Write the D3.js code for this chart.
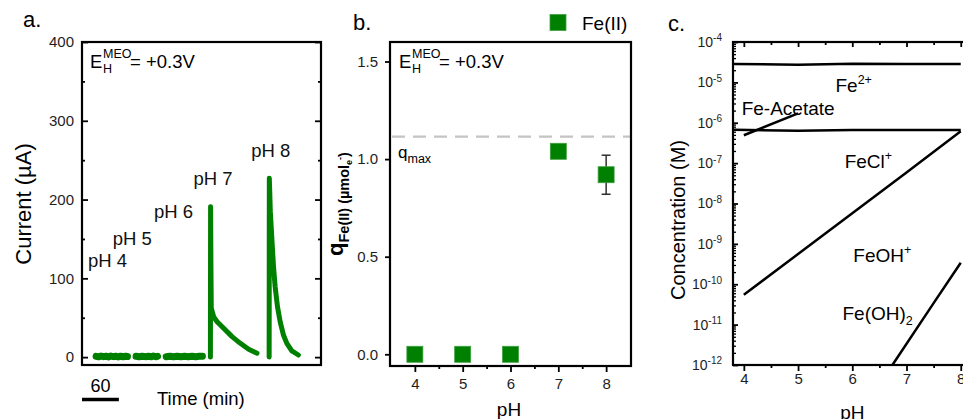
<!DOCTYPE html>
<html><head><meta charset="utf-8">
<script src="https://cdn.jsdelivr.net/npm/d3@7"></script>
<style>
body{margin:0;background:#fff;}
svg{font-family:"Liberation Sans",Arial,Helvetica,sans-serif;}
</style></head><body>
<svg id="fig" width="963" height="419"></svg>
<script>
// ---- Panel a: current transients at each pH step (time in min, current in µA)
const runPH4 = [[23,1],[27,0.4],[31,1.3],[35,0.6],[39,1.1],[43,0.3],[47,1.3],[51,0.6],[55,1.1],[59,0.3],[63,1.2],[67,0.5],[71,1.1],[74,0.8]];
const runPH5 = [[88,1],[93,0.5],[98,1.1],[103,0.6],[108,1],[113,0.4],[116,1.3],[120,0.5],[123,1]];
const runPH6 = [[137,0.6],[143,1.1],[149,0.5],[155,1.1],[161,0.5],[167,1],[173,0.5],[179,1.1],[185,0.5],[191,1],[196,1.2]];
const runPH7 = [[209,0],[209.3,191],[209.8,120],[210.4,62],[214.4,51],[219.9,45],[230.6,36.5],[244.2,26],[257.7,17.5],[271.2,10],[284.8,5]];
const runPH8 = [[304.6,0],[304.9,227],[306.5,185],[309.1,149],[311.7,115],[314.4,89],[318.2,64],[322.5,45],[327.9,28],[333.4,17.5],[341.5,8],[352.2,2.7]];
const runs = [runPH4, runPH5, runPH6, runPH7, runPH8];
const runLabels = ["pH 4","pH 5","pH 6","pH 7","pH 8"];
const runLabelAt = [[9.7,114],[50,142],[117,176.5],[181.5,218.5],[275.5,254]]; // [min, µA]
const currentTicks = [0,100,200,300,400];
const currentMinor = [50,150,250,350];
const scaleBarMin = 60;

// ---- Panel b: Fe(II) charge vs pH
const phB = [4,5,6,7,8];
const qFe = [0,0,0,1.04,0.92];
const qErr = [0,0,0,0,0.10];
const qMax = 1.115;
const qTicks = [0.0,0.5,1.0,1.5];

// ---- Panel c: Fe(II) speciation boundaries vs pH (concentration, M)
const lineFeTop   = [[3.82,2.85e-5],[5,2.75e-5],[6,2.9e-5],[7,2.85e-5],[8,2.85e-5]];
const lineFeCl    = [[3.82,6.7e-7],[5,6.3e-7],[6,6.6e-7],[7,6.6e-7],[8,6.6e-7]];
const lineAcetate = [[4,4.9e-7],[5,1.7e-6]];
const lineFeOH    = [[4,5.5e-11],[5,5.6e-10],[6,5.75e-9],[7,5.9e-8],[8,6.2e-7]];
const lineFeOH2   = [[6.74,1.0e-12],[7.5,3.4e-11],[8,3.4e-10]];
const speciesLines = [lineFeTop, lineFeCl, lineAcetate, lineFeOH, lineFeOH2];
const speciesLabels = [
  {main:"Fe", sup:"2+", at:[5.69,10**-5.24]},
  {main:"Fe-Acetate", at:[3.96,10**-5.81]},
  {main:"FeCl", sup:"+", at:[5.86,10**-7.12]},
  {main:"FeOH", sup:"+", at:[6.02,10**-9.45]},
  {main:"Fe(OH)", sub:"2", at:[5.82,10**-10.88]}
];
const concExponents = [-4,-5,-6,-7,-8,-9,-10,-11,-12];
const phTicks = [4,5,6,7,8];
const phMinor = [4.5,5.5,6.5,7.5];

const GREEN = "#008000";
const INK = "#000";
const TICKTXT = "#1e1e1e";

const svg = d3.select("#fig");

function styleAxis(g, fs){
  g.select(".domain").remove();
  g.selectAll(".tick line").attr("stroke", INK).attr("stroke-width", 1.8);
  g.selectAll(".tick text").attr("fill", TICKTXT).attr("font-size", fs).attr("font-family", null);
  g.attr("font-family", null);
}

function eLabel(g, x, y){
  g.append("text").attr("x", x).attr("y", y).attr("font-size", 18.5).attr("fill", INK).text("E");
  g.append("text").attr("x", x + 13).attr("y", y - 10).attr("font-size", 12.5).text("MEO");
  g.append("text").attr("x", x + 13).attr("y", y + 5).attr("font-size", 12.5).text("H");
  g.append("text").attr("x", x + 40).attr("y", y).attr("font-size", 18.5).text("= +0.3V");
}

// ================= Panel a =================
{
  const g = svg.append("g");
  const x = d3.scaleLinear().domain([0, 389]).range([82, 321]);
  const y = d3.scaleLinear().domain([-10, 400]).range([365, 42]);

  g.append("g").attr("transform", `translate(${x.range()[0]},0)`)
    .call(d3.axisLeft(y).tickValues(currentTicks).tickSizeInner(-6).tickSizeOuter(0).tickPadding(8))
    .call(a => styleAxis(a, 15));
  g.append("g").attr("transform", `translate(${x.range()[0]},0)`)
    .call(d3.axisLeft(y).tickValues(currentMinor).tickSizeInner(-3).tickSizeOuter(0).tickFormat(""))
    .call(a => styleAxis(a, 15));
  g.append("g").attr("transform", `translate(${x.range()[1]},0)`)
    .call(d3.axisRight(y).tickValues(currentTicks).tickSizeInner(-6).tickSizeOuter(0).tickFormat(""))
    .call(a => styleAxis(a, 15));
  g.append("g").attr("transform", `translate(${x.range()[1]},0)`)
    .call(d3.axisRight(y).tickValues(currentMinor).tickSizeInner(-3).tickSizeOuter(0).tickFormat(""))
    .call(a => styleAxis(a, 15));

  const line = d3.line().x(d => x(d[0])).y(d => y(d[1]));
  g.selectAll("path.run").data(runs).join("path").attr("class", "run")
    .attr("d", line).attr("fill", "none").attr("stroke", GREEN)
    .attr("stroke-width", (d, i) => i < 3 ? 7 : 5)
    .attr("stroke-linecap", "round").attr("stroke-linejoin", "round");

  g.append("rect").attr("x", x.range()[0]).attr("y", 42)
    .attr("width", x.range()[1] - x.range()[0]).attr("height", 323)
    .attr("fill", "none").attr("stroke", INK).attr("stroke-width", 2.2);

  g.selectAll("text.run").data(runLabels).join("text").attr("class", "run")
    .attr("x", (d, i) => x(runLabelAt[i][0])).attr("y", (d, i) => y(runLabelAt[i][1]))
    .attr("font-size", 18.5).attr("fill", "#111").text(d => d);

  eLabel(g, 90, 68);

  // time scale bar
  g.append("line").attr("x1", x(0)).attr("x2", x(scaleBarMin)).attr("y1", 399.5).attr("y2", 399.5)
    .attr("stroke", INK).attr("stroke-width", 3.5);
  g.append("text").attr("x", x(scaleBarMin / 2)).attr("y", 392).attr("text-anchor", "middle")
    .attr("font-size", 18).text(String(scaleBarMin));
  g.append("text").attr("x", 157).attr("y", 405).attr("font-size", 18.5).text("Time (min)");
  g.append("text").attr("transform", "translate(31,204) rotate(-90)").attr("text-anchor", "middle")
    .attr("font-size", 22).text("Current (\u00B5A)");
  g.append("text").attr("x", 23).attr("y", 27).attr("font-size", 22).text("a.");
}

// ================= Panel b =================
{
  const g = svg.append("g");
  const x = d3.scaleLinear().domain([3.48, 8.52]).range([390, 631]);
  const y = d3.scaleLinear().domain([-0.06, 1.6]).range([366, 42]);

  g.append("g").attr("transform", `translate(${x.range()[0]},0)`)
    .call(d3.axisLeft(y).tickValues(qTicks).tickSizeInner(5).tickSizeOuter(0).tickPadding(7).tickFormat(d3.format(".1f")))
    .call(a => styleAxis(a, 15));
  g.append("g").attr("transform", `translate(0,${y.range()[0]})`)
    .call(d3.axisBottom(x).tickValues(phTicks).tickSizeInner(6).tickSizeOuter(0).tickPadding(6).tickFormat(d3.format("d")))
    .call(a => styleAxis(a, 15));
  g.append("g").attr("transform", `translate(0,${y.range()[0]})`)
    .call(d3.axisBottom(x).tickValues(phMinor).tickSizeInner(3).tickSizeOuter(0).tickFormat(""))
    .call(a => styleAxis(a, 15));

  // q_max reference line
  g.append("line").attr("x1", x.range()[0] + 2).attr("x2", x.range()[1] - 1)
    .attr("y1", y(qMax)).attr("y2", y(qMax))
    .attr("stroke", "#c4c4c4").attr("stroke-width", 2.2).attr("stroke-dasharray", "13,8");
  const qm = g.append("text").attr("x", 398).attr("y", y(qMax) + 21).attr("font-size", 17).attr("fill", INK);
  qm.append("tspan").text("q");
  qm.append("tspan").attr("font-size", 12.5).attr("dy", 5).text("max");

  // error bars
  const eb = g.selectAll("g.err").data(phB.map((p, i) => ({p, q: qFe[i], e: qErr[i]})).filter(d => d.e > 0))
    .join("g").attr("class", "err");
  eb.append("line").attr("x1", d => x(d.p)).attr("x2", d => x(d.p))
    .attr("y1", d => y(d.q - d.e)).attr("y2", d => y(d.q + d.e)).attr("stroke", "#222").attr("stroke-width", 1.4);
  eb.append("line").attr("x1", d => x(d.p) - 4.5).attr("x2", d => x(d.p) + 4.5)
    .attr("y1", d => y(d.q + d.e)).attr("y2", d => y(d.q + d.e)).attr("stroke", "#222").attr("stroke-width", 1.4);
  eb.append("line").attr("x1", d => x(d.p) - 4.5).attr("x2", d => x(d.p) + 4.5)
    .attr("y1", d => y(d.q - d.e)).attr("y2", d => y(d.q - d.e)).attr("stroke", "#222").attr("stroke-width", 1.4);

  const S = 16;
  g.selectAll("rect.pt").data(phB).join("rect").attr("class", "pt")
    .attr("x", d => x(d) - S / 2).attr("y", (d, i) => y(qFe[i]) - S / 2)
    .attr("width", S).attr("height", S).attr("fill", GREEN)
    .attr("stroke", "#3f9f3f").attr("stroke-width", 0.8);

  g.append("rect").attr("x", x.range()[0]).attr("y", 42)
    .attr("width", x.range()[1] - x.range()[0]).attr("height", 324)
    .attr("fill", "none").attr("stroke", INK).attr("stroke-width", 2.2);

  eLabel(g, 399, 68);

  // legend
  g.append("rect").attr("x", 550).attr("y", 14.5).attr("width", S).attr("height", S).attr("fill", GREEN)
    .attr("stroke", "#3f9f3f").attr("stroke-width", 0.8);
  g.append("text").attr("x", 582).attr("y", 30).attr("font-size", 19).text("Fe(II)");

  g.append("text").attr("x", 509).attr("y", 416).attr("text-anchor", "middle").attr("font-size", 19).text("pH");
  g.append("text").attr("x", 353).attr("y", 30).attr("font-size", 22).text("b.");

  const yt = g.append("text").attr("transform", "translate(343,204) rotate(-90)")
    .attr("text-anchor", "middle").attr("font-weight", "bold").attr("fill", INK);
  yt.append("tspan").attr("font-size", 22).text("q");
  yt.append("tspan").attr("font-size", 14.5).attr("dy", 6).text("Fe(II) (\u00B5mol");
  yt.append("tspan").attr("font-size", 9).attr("dy", 3).text("e");
  yt.append("tspan").attr("font-size", 9).attr("dy", -9).text("-");
  yt.append("tspan").attr("font-size", 14.5).attr("dy", 6).text(")");
}

// ================= Panel c =================
{
  const g = svg.append("g");
  const x = d3.scaleLinear().domain([3.8, 8.3]).range([733, 977]);
  const y = d3.scaleLog().domain([1e-12, 1e-4]).range([365, 42]);

  const majors = concExponents.map(e => 10 ** e);
  const minors = [];
  for (let e = -12; e < -4; e++) for (let m = 2; m <= 9; m++) minors.push(m * 10 ** e);

  g.append("g").attr("transform", `translate(${x.range()[0]},0)`)
    .call(d3.axisLeft(y).tickValues(majors).tickSizeInner(-5).tickSizeOuter(0).tickPadding(11).tickFormat(""))
    .call(a => styleAxis(a, 14))
    .call(a => {
      a.selectAll(".tick text").each(function(d) {
        const t = d3.select(this);
        t.append("tspan").text("10");
        t.append("tspan").attr("font-size", 10).attr("dy", "-0.55em").text(String(Math.round(Math.log10(d))));
      });
    });
  g.append("g").attr("transform", `translate(${x.range()[0]},0)`)
    .call(d3.axisLeft(y).tickValues(minors).tickSizeInner(-3).tickSizeOuter(0).tickFormat(""))
    .call(a => styleAxis(a, 14))
    .call(a => a.selectAll(".tick line").attr("stroke-width", 1.3));
  g.append("g").attr("transform", `translate(0,${y.range()[0]})`)
    .call(d3.axisBottom(x).tickValues(phTicks).tickSizeInner(6).tickSizeOuter(0).tickPadding(2).tickFormat(d3.format("d")))
    .call(a => styleAxis(a, 15));
  g.append("g").attr("transform", `translate(0,${y.range()[0]})`)
    .call(d3.axisBottom(x).tickValues(phMinor).tickSizeInner(3).tickSizeOuter(0).tickFormat(""))
    .call(a => styleAxis(a, 15));
  g.append("g").attr("transform", `translate(0,${y.range()[1]})`)
    .call(d3.axisTop(x).tickValues(phTicks).tickSizeInner(-5).tickSizeOuter(0).tickFormat(""))
    .call(a => styleAxis(a, 15));
  g.append("g").attr("transform", `translate(0,${y.range()[1]})`)
    .call(d3.axisTop(x).tickValues(phMinor).tickSizeInner(-3).tickSizeOuter(0).tickFormat(""))
    .call(a => styleAxis(a, 15));

  const line = d3.line().x(d => x(d[0])).y(d => y(d[1]));
  g.selectAll("path.sp").data(speciesLines).join("path").attr("class", "sp")
    .attr("d", line).attr("fill", "none").attr("stroke", INK).attr("stroke-width", 2.5)
    .attr("stroke-linejoin", "round");

  g.append("rect").attr("x", x.range()[0]).attr("y", 42)
    .attr("width", x.range()[1] - x.range()[0]).attr("height", 323)
    .attr("fill", "none").attr("stroke", INK).attr("stroke-width", 2.2);

  speciesLabels.forEach(s => {
    const t = g.append("text").attr("x", x(s.at[0])).attr("y", y(s.at[1])).attr("font-size", 19).attr("fill", INK);
    t.append("tspan").text(s.main);
    if (s.sup) t.append("tspan").attr("font-size", 12.5).attr("dy", -8).text(s.sup);
    if (s.sub) t.append("tspan").attr("font-size", 12.5).attr("dy", 5).text(s.sub);
  });

  g.append("text").attr("x", x(6)).attr("y", 419).attr("text-anchor", "middle").attr("font-size", 19).text("pH");
  g.append("text").attr("transform", "translate(685,220) rotate(-90)").attr("text-anchor", "middle")
    .attr("font-size", 20).text("Concentration (M)");
  g.append("text").attr("x", 668).attr("y", 31).attr("font-size", 22).text("c.");
}
</script>
</body></html>
